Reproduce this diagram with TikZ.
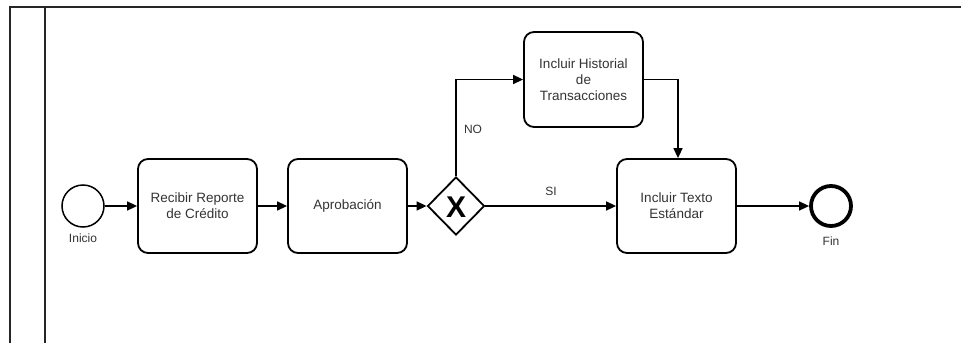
\documentclass[tikz,border=0pt]{standalone}
\usepackage{fontspec}
\setmainfont{Liberation Sans}
\usetikzlibrary{shapes.geometric,arrows.meta}
\begin{document}
\begin{tikzpicture}[x=1pt,y=-1pt,
  task/.style={draw=black,line width=1.8pt,rounded corners=10pt,minimum width=119pt,minimum height=94pt,inner sep=0pt,align=center,font=\fontsize{13.5}{16}\selectfont,text=black!80},
  flow/.style={line width=1.5pt,-{Triangle[length=10pt,width=9pt]}},
  lbl/.style={font=\fontsize{12}{14}\selectfont,text=black!80,inner sep=0pt},
  frame/.style={line width=2pt,black!85}
]
\useasboundingbox (0,0) rectangle (961,343);
\draw[frame] (10,343) -- (10,7) -- (961,7);
\draw[frame] (45,7) -- (45,343);

\node[circle,draw,line width=1.5pt,minimum size=42pt,inner sep=0pt] (start) at (83,206) {};
\node[lbl] (inicio) at (83,238) {Inicio};
\node[task] (t1) at (197.5,206) {Recibir Reporte\\de Crédito};
\node[task] (t2) at (347.5,206) {Aprobación};
\node[diamond,draw,line width=1.8pt,minimum width=57pt,minimum height=58pt,inner sep=0pt] (gw) at (456,206) {};
\node[font=\fontsize{30}{30}\selectfont\bfseries,inner sep=0pt] (gx) at (456,207) {X};
\node[task,minimum height=95pt] (t3) at (583.5,79.5) {Incluir Historial\\de\\Transacciones};
\node[task] (t4) at (676.5,206) {Incluir Texto\\Estándar};
\node[circle,draw,line width=3.8pt,minimum size=40pt,inner sep=0pt] (end) at (831,206) {};
\node[lbl] (fin) at (831,241) {Fin};

\draw[flow] (start) -- (t1);
\draw[flow] (t1) -- (t2);
\draw[flow] (t2) -- (gw);
\draw[flow] (gw.north) |- (t3.west);
\draw[flow] (gw.east) -- (t4.west);
\draw[flow] (t3.east) -| ([xshift=1.5pt]t4.north);
\draw[flow] (t4) -- (end);

\node[lbl] (no) at (473,129) {NO};
\node[lbl] (si) at (551,191) {SI};
\end{tikzpicture}
\end{document}
